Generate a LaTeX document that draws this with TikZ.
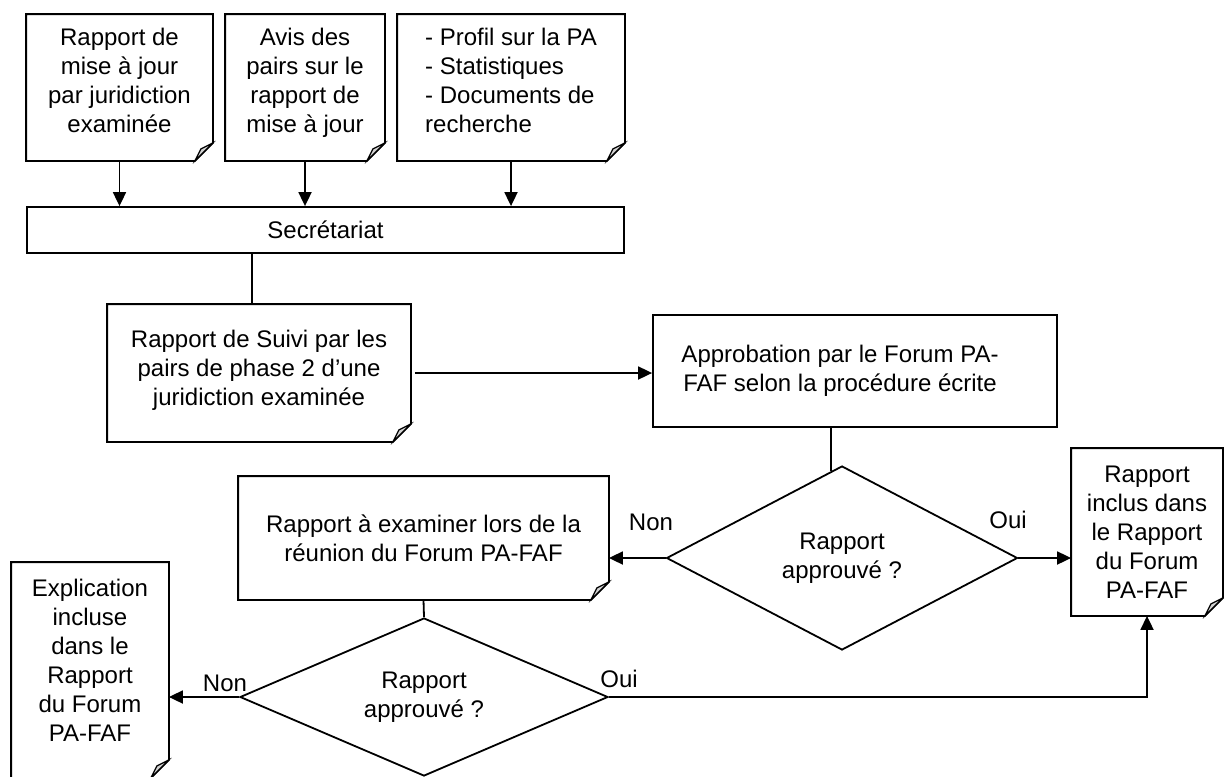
\documentclass[tikz,border=0pt]{standalone}
\usepackage{fontspec}
\setmainfont{Liberation Sans}
\usetikzlibrary{arrows.meta,shapes.geometric,calc}

\tikzset{
  txt/.style={font=\fontsize{12}{14.5}\selectfont},
  doc/.style={txt, rectangle, inner sep=0pt, align=center},
  box/.style={doc, draw},
  choix/.style={txt, diamond, draw, inner sep=0pt, aspect=2, align=center},
  lbl/.style={txt, inner sep=0pt}
}
% ligne vide pour remonter le texte dans la boite
\newcommand{\remonte}[1]{\\[#1]\mbox{}}

\begin{document}
\begin{tikzpicture}[x=0.5pt,y=-0.5pt,line width=0.9pt,>={Triangle[length=7pt,width=6.5pt]}]
\useasboundingbox (0,0) rectangle (1224,776);

% documents du haut
\node[doc,minimum width=92.5pt,minimum height=72.5pt] (rap1) at (119.5,87.5) {Rapport de\\mise à jour\\par juridiction\\examinée\remonte{-7pt}};
\node[doc,minimum width=79pt,minimum height=72.5pt] (avis) at (305,87.5) {Avis des\\pairs sur le\\rapport de\\mise à jour\remonte{-7pt}};
\node[doc,minimum width=113pt,minimum height=72.5pt,align=left] (profil) at (511,87.5) {- Profil sur la PA\\- Statistiques\\- Documents de\\recherche\remonte{-7pt}};

\node[box,minimum width=298.5pt,minimum height=23pt] (secr) at (325.5,230) {Secrétariat};

\node[doc,minimum width=151pt,minimum height=68pt] (suivi) at (259,373) {Rapport de Suivi par les\\pairs de phase 2 d’une\\juridiction examinée\remonte{-9.5pt}};
\node[box,minimum width=202pt,minimum height=56pt] (appro) at (855,371) {Approbation par le Forum PA-\hspace*{15pt}\\FAF selon la procédure écrite\hspace*{15pt}};

% decisions
\node[choix,minimum width=175.5pt,minimum height=92pt] (dec1) at (842,558) {Rapport\\approuvé ?};
\node[doc,minimum width=184.5pt,minimum height=61pt] (exam) at (423.5,538) {Rapport à examiner lors de la\\réunion du Forum PA-FAF};
\node[doc,minimum width=75pt,minimum height=83pt] (incl) at (1147,532) {Rapport\\inclus dans\\le Rapport\\du Forum\\PA-FAF};
\node[choix,minimum width=184pt,minimum height=79pt] (dec2) at (424,697) {Rapport\\approuvé ?};
\node[doc,minimum width=78pt,minimum height=107pt] (expl) at (90,670) {Explication\\incluse\\dans le\\Rapport\\du Forum\\PA-FAF\remonte{-4.5pt}};

% coin plié
\foreach \n in {rap1,avis,profil,suivi,exam,incl,expl}{
  \draw (\n.north west) -- (\n.north east) -- ([yshift=9pt]\n.south east)
    -- ([xshift=-9pt]\n.south east) -- (\n.south west) -- cycle;
  \draw[fill=gray!35,line width=0.6pt] ([yshift=9pt]\n.south east) -- ([xshift=-6pt,yshift=6pt]\n.south east)
    -- ([xshift=-9pt]\n.south east) -- cycle;
}

\coordinate (haut1) at ($(dec1.north)!0.063!(dec1.west)$);

\foreach \n in {rap1,avis,profil}
  \draw[->] (\n.south) -- (\n.south |- secr.north);
\draw ([xshift=-3.5pt]suivi.north |- secr.south) -- ([xshift=-3.5pt]suivi.north);
\draw[->] ([xshift=2pt]suivi.east) -- (suivi.east -| appro.west);
\draw (haut1 |- appro.south) -- (haut1);
\draw[->] (dec1.west) -- (dec1.west -| exam.east);
\draw[->] (dec1.east) -- (dec1.east -| incl.west);
\draw (exam.south) -- (dec2.north);
\draw[->] (dec2.west) -- (dec2.west -| expl.east);
\draw[->] (dec2.east) -| (incl.south);

\node[lbl] (non1) at (651,522) {Non};
\node[lbl] (oui1) at (1008,520) {Oui};
\node[lbl] (non2) at (225,683) {Non};
\node[lbl] (oui2) at (619,679) {Oui};
\end{tikzpicture}
\end{document}
